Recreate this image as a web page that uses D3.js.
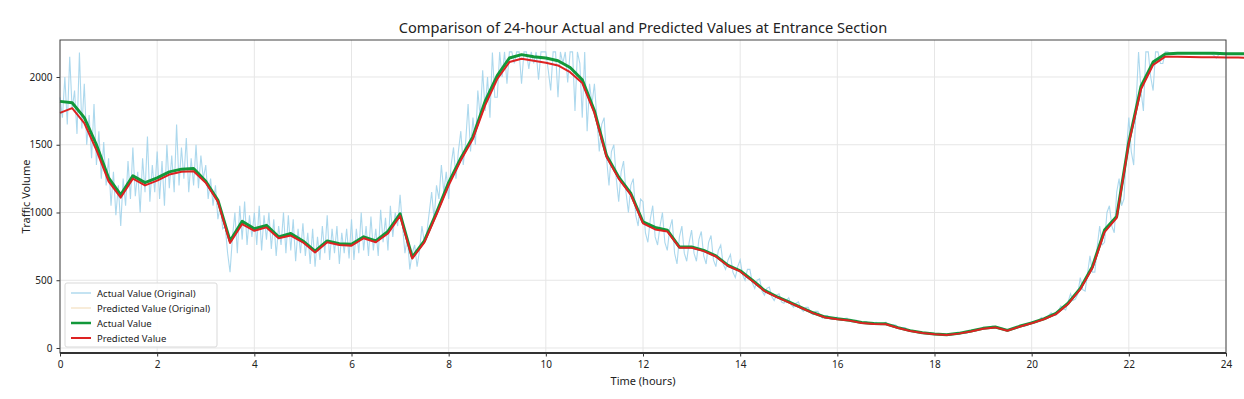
<!DOCTYPE html>
<html>
<head>
<meta charset="utf-8">
<script src="https://cdn.jsdelivr.net/npm/d3@7"></script>
<style>
  body { margin: 0; background: #fff; }
  text { font-family: "Noto Sans", "Open Sans", sans-serif; fill: #222; }
</style>
</head>
<body>
<div id="chart"></div>
<script>
// smoothed series, one value every 0.25 h from 0 to 24
var actual = [
  1820, 1810, 1700, 1500, 1255, 1130, 1270, 1220, 1255, 1300, 1320, 1325,
  1230, 1090, 790, 935, 880, 905, 820, 845, 790, 715, 790, 770,
  765, 820, 790, 860, 990, 670, 790, 1000, 1220, 1400, 1560, 1820,
  2010, 2140, 2165, 2150, 2140, 2120, 2070, 1980, 1750, 1420, 1260, 1140,
  930, 890, 870, 745, 745, 720, 680, 610, 570, 500, 425, 380,
  340, 300, 260, 228, 215, 205, 188, 180, 178, 150, 128, 112,
  103, 97, 108, 125, 145, 155, 130, 160, 185, 215, 255, 330,
  440, 600, 870, 970, 1520, 1930, 2110, 2170, 2175, 2175, 2175, 2175,
  2172, 2172, 2172, 2170, 2170
];
var predicted = [
  1735, 1770, 1660, 1460, 1230, 1110, 1250, 1200, 1235, 1280, 1300, 1305,
  1220, 1080, 775, 915, 865, 890, 810, 830, 780, 705, 780, 760,
  755, 810, 780, 845, 975, 660, 780, 985, 1200, 1385, 1545, 1790,
  1985, 2110, 2135, 2120, 2105, 2085, 2035, 1955, 1735, 1410, 1250, 1130,
  920, 875, 860, 740, 740, 715, 675, 605, 565, 495, 420, 376,
  336, 297, 257, 225, 212, 202, 185, 177, 175, 147, 126, 110,
  101, 95, 106, 122, 142, 152, 127, 157, 182, 212, 250, 325,
  432, 590, 855, 960, 1510, 1910, 2090, 2150, 2150, 2148, 2146, 2145,
  2144, 2143, 2142, 2141, 2140
];
// raw series, one value every 0.05 h from 0 to 24 (one row per hour)
var actualRaw = [
  1850, 1700, 2000, 1650, 2150, 1760, 1900, 1580, 2180, 1620, 1950, 1500, 1720, 1400, 1800, 1350, 1600, 1250, 1520, 1200,
  1400, 1050, 1300, 980, 1200, 900, 1250, 1050, 1380, 1100, 1480, 1120, 1300, 1000, 1400, 1150, 1560, 1080, 1350, 1150,
  1450, 1100, 1380, 1050, 1500, 1180, 1420, 1150, 1650, 1200, 1480, 1250, 1550, 1150, 1400, 1200, 1500, 1180, 1420, 1250,
  1350, 1100, 1250, 1050, 1200, 950, 1050, 880, 900, 700, 560, 820, 1000, 700, 1050, 800, 1080, 760, 980, 820,
  1000, 760, 1050, 720, 980, 800, 1000, 730, 950, 680, 900, 760, 1000, 700, 980, 720, 950, 640, 880, 700,
  920, 680, 850, 620, 880, 600, 820, 650, 900, 700, 980, 650, 880, 700, 900, 620, 850, 700, 880, 660,
  950, 650, 880, 700, 1000, 720, 900, 680, 970, 720, 880, 680, 1020, 780, 960, 720, 1050, 820, 1000, 900,
  1130, 900, 700, 820, 580, 700, 760, 600, 720, 900, 780, 850, 1000, 1150, 950, 1200, 1100, 1350, 1150, 1300,
  1100, 1350, 1480, 1250, 1450, 1600, 1350, 1520, 1800, 1450, 1700, 1500, 1900, 1700, 2050, 1750, 2000, 1700, 2180, 1850,
  1850, 2185, 2000, 2185, 1950, 2185, 2185, 2100, 2185, 2185, 1950, 2185, 2185, 2060, 2185, 2100, 2185, 1980, 2185, 2185,
  2185, 2050, 1900, 2185, 2185, 1850, 2185, 2100, 2185, 1960, 2185, 2185, 1750, 2185, 2100, 1700, 2185, 1600, 1950, 1800,
  1950, 1700, 1450, 1650, 1700, 1400, 1200, 1450, 1500, 1250, 1080, 1300, 1380, 1150, 1000, 1200, 1250, 980, 900, 1100,
  1080, 850, 780, 950, 1050, 820, 760, 900, 1000, 780, 720, 880, 950, 700, 620, 820, 900, 700, 640, 780,
  870, 700, 640, 800, 860, 680, 620, 780, 830, 650, 600, 720, 760, 620, 580, 650, 690, 560, 520, 600,
  650, 540, 500, 580, 580, 480, 440, 500, 510, 420, 390, 440, 450, 380, 350, 390, 400, 340, 330, 350,
  370, 320, 300, 330, 340, 290, 270, 300, 300, 260, 245, 270, 270, 235, 220, 240, 240, 215, 210, 220,
  230, 210, 205, 218, 220, 200, 192, 205, 205, 190, 180, 192, 195, 180, 175, 186, 190, 175, 172, 180,
  190, 172, 165, 172, 170, 152, 145, 150, 150, 132, 125, 128, 125, 115, 110, 113, 112, 105, 102, 104,
  106, 100, 98, 102, 100, 95, 92, 98, 102, 100, 102, 108, 115, 110, 114, 122, 130, 126, 132, 138,
  150, 144, 146, 155, 162, 155, 150, 148, 145, 132, 126, 134, 140, 142, 146, 155, 168, 160, 166, 175,
  195, 185, 188, 205, 225, 210, 215, 240, 260, 245, 240, 275, 310, 290, 280, 340, 400, 350, 360, 400,
  520, 430, 420, 550, 680, 560, 560, 750, 900, 760, 780, 1000, 1050, 900, 850, 1150, 1250, 1050, 1100, 1450,
  1700, 1450, 1350, 1800, 2185, 1900, 1750, 2185, 2185, 2000, 1900, 2185, 2185, 2100, 2100, 2185, 2185, 2175, 2175, 2175,
  2175, 2175, 2175, 2175, 2175, 2175, 2175, 2175, 2175, 2175, 2175, 2175, 2172, 2172, 2172, 2160, 2140, 2165, 2170, 2170,
  2170
];
var xTicks = [0, 2, 4, 6, 8, 10, 12, 14, 16, 18, 20, 22, 24];
var yTicks = [0, 500, 1000, 1500, 2000];
var legendLabels = ["Actual Value (Original)", "Predicted Value (Original)", "Actual Value", "Predicted Value"];

var W = 1244, H = 399;
var m = {left: 60, right: 18, top: 40, bottom: 46};

var svg = d3.select("#chart").append("svg")
    .attr("width", W)
    .attr("height", H);

var x = d3.scaleLinear().domain([0, 24]).range([m.left, W - m.right]);
var y = d3.scaleLinear().domain([-37, 2273]).range([H - m.bottom, m.top]);

// grid
svg.append("g").selectAll("line").data(xTicks).join("line")
    .attr("x1", d => x(d)).attr("x2", d => x(d))
    .attr("y1", m.top).attr("y2", H - m.bottom)
    .attr("stroke", "#e6e6e6").attr("stroke-width", 1);
svg.append("g").selectAll("line").data(yTicks).join("line")
    .attr("x1", m.left).attr("x2", W - m.right)
    .attr("y1", d => y(d)).attr("y2", d => y(d))
    .attr("stroke", "#e6e6e6").attr("stroke-width", 1);

var line = d3.line().x(d => x(d[0])).y(d => y(d[1]));

var rawStep = 24 / (actualRaw.length - 1);
var rawA = actualRaw.map((v, i) => [i * rawStep, v]);
var sa = actual.map((v, i) => [i * 0.25, v]);
var sp = predicted.map((v, i) => [i * 0.25, v]);

var plot = svg.append("g");
plot.append("path").datum(rawA).attr("d", line)
    .attr("fill", "none").attr("stroke", "#9dd1ea").attr("stroke-opacity", 0.85).attr("stroke-width", 1.1);
plot.append("path").datum(sp).attr("d", line)
    .attr("fill", "none").attr("stroke", "#f3dfbf").attr("stroke-opacity", 0.7).attr("stroke-width", 1);
plot.append("path").datum(sa).attr("d", line)
    .attr("fill", "none").attr("stroke", "#12983a").attr("stroke-width", 3)
    .attr("stroke-linejoin", "round");
plot.append("path").datum(sp).attr("d", line)
    .attr("fill", "none").attr("stroke", "#dd2222").attr("stroke-width", 2)
    .attr("stroke-linejoin", "round");

// axes
var xAxis = svg.append("g")
    .attr("transform", "translate(0," + (H - m.bottom) + ")")
    .call(d3.axisBottom(x).tickValues(xTicks).tickSize(3.5).tickPadding(4));
var yAxis = svg.append("g")
    .attr("transform", "translate(" + m.left + ",0)")
    .call(d3.axisLeft(y).tickValues(yTicks).tickFormat(d3.format("d")).tickSize(3.5).tickPadding(4));
[xAxis, yAxis].forEach(function(a) {
  a.select(".domain").remove();
  a.selectAll("line").attr("stroke", "#333");
  a.selectAll("text").attr("font-size", 10).attr("fill", "#333")
      .style("font-family", "'Noto Sans', sans-serif");
});

// frame
svg.append("rect")
    .attr("x", m.left).attr("y", m.top)
    .attr("width", W - m.right - m.left).attr("height", H - m.bottom - m.top)
    .attr("fill", "none").attr("stroke", "#444").attr("stroke-width", 1);
svg.append("line")
    .attr("x1", m.left).attr("x2", W - m.right)
    .attr("y1", H - m.bottom).attr("y2", H - m.bottom)
    .attr("stroke", "#333").attr("stroke-width", 1.8);

svg.append("text")
    .attr("x", (m.left + W - m.right) / 2).attr("y", 33)
    .attr("text-anchor", "middle").attr("font-size", 14.6)
    .text("Comparison of 24-hour Actual and Predicted Values at Entrance Section");
svg.append("text")
    .attr("x", (m.left + W - m.right) / 2).attr("y", 385)
    .attr("text-anchor", "middle").attr("font-size", 11)
    .text("Time (hours)");
svg.append("text")
    .attr("transform", "translate(30," + ((m.top + H - m.bottom) / 2) + ") rotate(-90)")
    .attr("text-anchor", "middle").attr("font-size", 11)
    .text("Traffic Volume");

// legend
var legendColors = ["#9dd1ea", "#f3dfbf", "#12983a", "#dd2222"];
var legendWidths = [1.2, 1.2, 2.5, 2];
var lg = svg.append("g").attr("transform", "translate(65,283)");
lg.append("rect").attr("width", 152).attr("height", 64).attr("rx", 2)
    .attr("fill", "#fff").attr("fill-opacity", 0.85)
    .attr("stroke", "#d9d9d9");
var items = lg.selectAll("g").data(legendLabels).join("g")
    .attr("transform", (d, i) => "translate(0," + (10 + i * 15) + ")");
items.append("line").attr("x1", 6).attr("x2", 26)
    .attr("stroke", (d, i) => legendColors[i])
    .attr("stroke-width", (d, i) => legendWidths[i]);
items.append("text").attr("x", 32).attr("y", 3.5)
    .attr("font-size", 9.5).attr("fill", "#333")
    .text(d => d);
</script>
</body>
</html>
